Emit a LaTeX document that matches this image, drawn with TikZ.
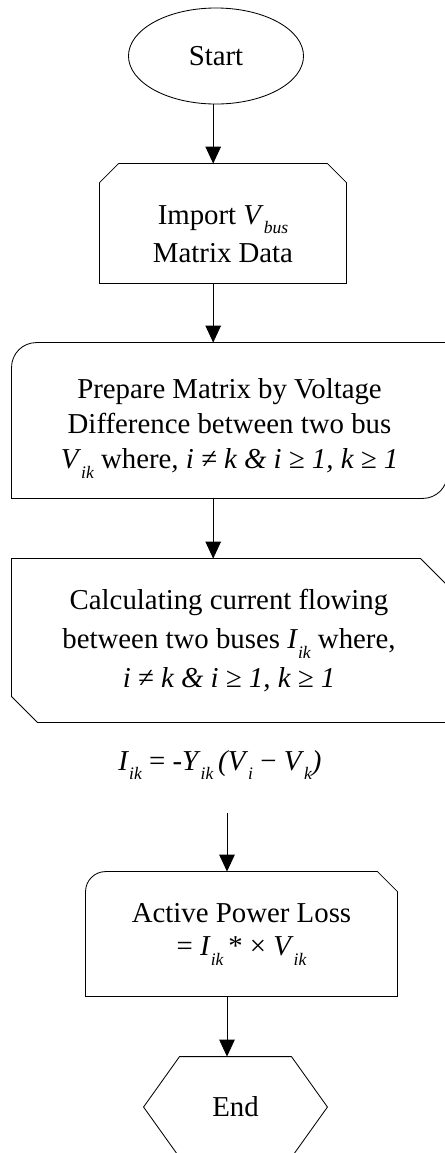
\documentclass[tikz,border=0pt]{standalone}
\usepackage{fontspec}
\setmainfont{Liberation Serif}
\usetikzlibrary{arrows.meta,shapes.geometric,calc}
\newcommand{\bodyfont}{\fontsize{20.5}{25}\selectfont}
\newcommand{\lowsub}[1]{\raisebox{-7pt}{\fontsize{12.5}{12.5}\selectfont\itshape #1}}
\newcommand{\topgap}[1]{\rule{0pt}{#1}}
\tikzset{
  flowbox/.style={inner sep=0pt,align=center,font=\bodyfont},
  flow/.style={-{Triangle[length=12pt,width=11pt]},line width=0.6pt},
}

\begin{document}
\begin{tikzpicture}[x=0.025cm,y=-0.025cm,line width=0.6pt]
  \useasboundingbox (0,0) rectangle (445,1153);
  \clip (0,0) rectangle (445,1153);

  % blocks (px grid, y downwards)
  \node[flowbox,draw,ellipse,minimum width=4.375cm,minimum height=2.4cm] (start) at (216,56) {Start};
  \node[flowbox,minimum width=6.15cm,minimum height=2.975cm] (imp) at (223,223.5)
    {\topgap{28pt}Import \textit{V}\lowsub{bus}\\[2pt] Matrix Data};
  \node[flowbox,minimum width=10.875cm,minimum height=3.875cm] (prep) at (229.5,420.5)
    {\topgap{25pt}Prepare Matrix by Voltage\\ Difference between two bus\\
     \textit{V}\lowsub{ik} where\textit{, i ≠ k \& i ≥ 1, k ≥ 1}};
  \node[flowbox,minimum width=10.85cm,minimum height=4.075cm] (calc) at (229,640.5)
    {Calculating current flowing\\[3pt] between two buses \textit{I}\lowsub{ik} where,\\[3pt]
     \textit{i ≠ k \& i ≥ 1, k ≥ 1}};
  \node[flowbox] (eq) at (220,765)
    {\textit{I}\lowsub{ik} = \textit{-Y}\lowsub{ik}\,\textit{(V}\lowsub{i} − \textit{V}\lowsub{k}\textit{)}};
  \node[flowbox,minimum width=7.775cm,minimum height=3.1cm] (loss) at (241.5,934)
    {Active Power Loss\\[-1.5pt] = \textit{I}\lowsub{ik}\,* × \textit{V}\lowsub{ik}};
  \node[flowbox,minimum width=4.575cm,minimum height=2.5cm] (stop) at (235.5,1107) {End};
  \coordinate (gap) at (227,813);

  % outlines
  \draw (imp.south west) -- ($(imp.north west)+(0,19)$) -- ($(imp.north west)+(19,0)$)
    -- ($(imp.north east)+(-19,0)$) -- ($(imp.north east)+(0,19)$) -- (imp.south east) -- cycle;
  \draw (prep.south west) -- ($(prep.north west)+(0,25)$)
    .. controls ($(prep.north west)+(0,11)$) and ($(prep.north west)+(11,0)$) .. ($(prep.north west)+(25,0)$)
    -- (prep.north east) -- ($(prep.south east)+(0,-25)$)
    .. controls ($(prep.south east)+(0,-11)$) and ($(prep.south east)+(-11,0)$) .. ($(prep.south east)+(-25,0)$)
    -- cycle;
  \draw (calc.north west) -- ($(calc.north east)+(-26,0)$) -- ($(calc.north east)+(0,26)$)
    -- (calc.south east) -- ($(calc.south west)+(26,0)$) -- ($(calc.south west)+(0,-26)$) -- cycle;
  \draw (loss.south west) -- ($(loss.north west)+(0,20)$)
    .. controls ($(loss.north west)+(0,9)$) and ($(loss.north west)+(9,0)$) .. ($(loss.north west)+(20,0)$)
    -- ($(loss.north east)+(-20,0)$) -- ($(loss.north east)+(0,20)$) -- (loss.south east) -- cycle;
  \draw (stop.west) -- ($(stop.north west)+(36,0)$) -- ($(stop.north east)+(-36,0)$) -- (stop.east)
    -- ($(stop.south east)+(-36,0)$) -- ($(stop.south west)+(36,0)$) -- cycle;

  % connectors
  \draw[flow] ([xshift=-2pt]start.south) -- ([xshift=-2pt]start.south |- imp.north);
  \draw[flow] ([xshift=-2pt]imp.south -| start) -- ([xshift=-2pt]prep.north -| start);
  \draw[flow] ([xshift=-2pt]prep.south -| start) -- ([xshift=-2pt]calc.north -| start);
  \draw[flow] (gap) -- (gap |- loss.north);
  \draw[flow] (loss.south -| gap) -- (stop.north -| gap);
\end{tikzpicture}
\end{document}
